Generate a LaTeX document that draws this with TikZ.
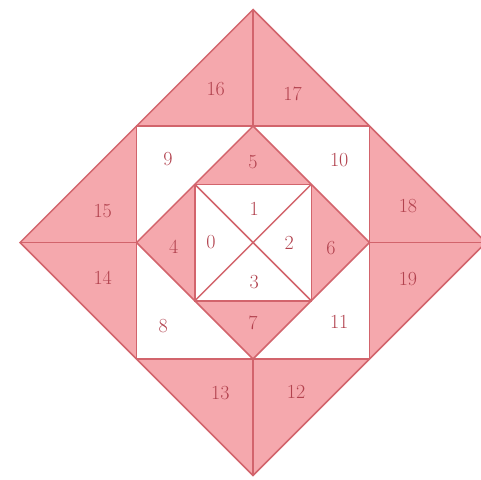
\documentclass[tikz,border=0pt]{standalone}
\usepackage{tikz}
\usetikzlibrary{calc}
\definecolor{tilePink}{RGB}{245, 168, 173}
\definecolor{tileEdge}{RGB}{210, 100, 108}
\definecolor{tileText}{RGB}{178, 66, 78}

\begin{document}
\begin{tikzpicture}[x=116.5pt, y=116.5pt,
    edge/.style={draw=tileEdge, line width=1.5pt, line join=miter},
    num/.style={text=tileText, font=\fontsize{20pt}{24pt}\selectfont, inner sep=0pt}]
    \fill[white] (-2.172,-2.030) rectangle (1.957,2.082);
    \useasboundingbox (-2.172,-2.030) rectangle (1.957,2.082);
    \clip (-2.172,-2.030) rectangle (1.957,2.082);

    % outer diamond
    \coordinate (oT) at (0,2);
    \coordinate (oL) at (-2,0);
    \coordinate (oB) at (0,-2);
    \coordinate (oR) at (2,0);
    % square
    \coordinate (sNW) at (-1,1);
    \coordinate (sNE) at (1,1);
    \coordinate (sSE) at (1,-1);
    \coordinate (sSW) at (-1,-1);
    % inner diamond
    \coordinate (iT) at (0,1);
    \coordinate (iL) at (-1,0);
    \coordinate (iB) at (0,-1);
    \coordinate (iR) at (1,0);
    % inner square
    \coordinate (cNW) at (-0.5,0.5);
    \coordinate (cNE) at (0.5,0.5);
    \coordinate (cSE) at (0.5,-0.5);
    \coordinate (cSW) at (-0.5,-0.5);

    \fill[tilePink] (oT) -- (oL) -- (oB) -- (oR) -- cycle;
    \fill[white] (sNW) -- (sNE) -- (sSE) -- (sSW) -- cycle;
    \fill[tilePink] (iT) -- (iL) -- (iB) -- (iR) -- cycle;
    \fill[white] (cNW) -- (cNE) -- (cSE) -- (cSW) -- cycle;

    \draw[edge] (oT) -- (oL) -- (oB) -- (oR) -- cycle;
    \draw[edge] (sNW) -- (sNE) -- (sSE) -- (sSW) -- cycle;
    \draw[edge] (iT) -- (iL) -- (iB) -- (iR) -- cycle;
    \draw[edge] (cNW) -- (cNE) -- (cSE) -- (cSW) -- cycle;
    \draw[edge] (oT) -- (iT) (oB) -- (iB) (oL) -- (iL) (oR) -- (iR);
    \draw[edge] (cNW) -- (cSE) (cNE) -- (cSW);

    % numbers
    \foreach \n/\x/\y in {0/-0.36/0, 1/0.01/0.29, 2/0.31/0, 3/0.01/-0.34,
        4/-0.68/-0.04, 5/0/0.69, 6/0.67/-0.05, 7/0/-0.69,
        8/-0.77/-0.72, 9/-0.73/0.72, 10/0.74/0.71, 11/0.74/-0.68,
        12/0.37/-1.28, 13/-0.28/-1.29, 14/-1.29/-0.30, 15/-1.29/0.27,
        16/-0.32/1.32, 17/0.34/1.28, 18/1.33/0.31, 19/1.33/-0.31}
        \node[num] (n\n) at (\x,\y) {\n};
\end{tikzpicture}
\end{document}
